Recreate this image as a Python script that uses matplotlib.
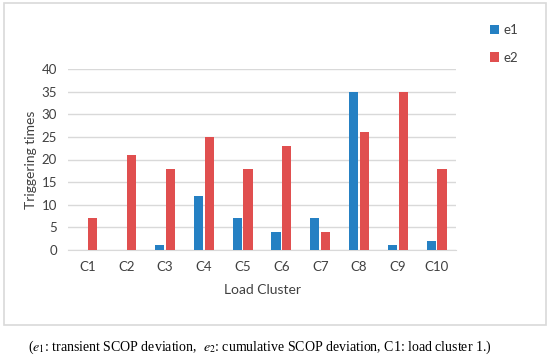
import matplotlib.pyplot as plt
import numpy as np
from matplotlib.patches import Rectangle

clusters = ['C1', 'C2', 'C3', 'C4', 'C5', 'C6', 'C7', 'C8', 'C9', 'C10']
e1 = [0, 0, 1, 12, 7, 4, 7, 35, 1, 2]
e2 = [7, 21, 18, 25, 18, 23, 4, 26, 35, 18]

plt.rcParams['font.family'] = ['Lato', 'DejaVu Sans']
plt.rcParams['mathtext.fontset'] = 'stix'

fig = plt.figure(figsize=(5.5, 3.6), dpi=100)
fig.patches.append(Rectangle((4 / 550, 1 - 325 / 360), 542 / 550, 322 / 360,
                             transform=fig.transFigure, fill=False,
                             edgecolor='#d9d9d9', lw=1.2))

ax = fig.add_axes([68 / 550, 1 - 250 / 360, 388 / 550, 181 / 360])
x = np.arange(len(clusters))
w = 0.24
b1 = ax.bar(x - w / 2 - 0.02, e1, w, color='#2580c3', label='e1', zorder=3)
b2 = ax.bar(x + w / 2 + 0.02, e2, w, color='#e04f4f', label='e2', zorder=3)

ax.set_xlim(-0.5, len(clusters) - 0.5)
ax.set_ylim(0, 40)
ax.set_yticks(range(0, 41, 5))
ax.set_xticks(x)
ax.set_xticklabels(clusters)
ax.yaxis.grid(True, color='#d9d9d9', lw=1, zorder=0)
for s in ['top', 'right', 'left']:
    ax.spines[s].set_visible(False)
ax.spines['bottom'].set_color('#d9d9d9')
ax.tick_params(length=0, labelsize=9.5, colors='#404040', pad=8)
ax.set_ylabel('Triggering times', fontsize=10, color='#404040', labelpad=3)
ax.set_xlabel('Load Cluster', fontsize=10, color='#404040', labelpad=8)

fig.legend(handles=[b1, b2], loc='upper left', bbox_to_anchor=(478 / 550, 1 - 12 / 360),
           frameon=False, fontsize=9.5, handlelength=0.7, handleheight=0.7,
           handletextpad=0.3, labelspacing=1.2, labelcolor='#404040')

fig.text(0.473, 1 - 347 / 360,
         r'($e_1$: transient SCOP deviation,  $e_2$: cumulative SCOP deviation, C1: load cluster 1.)',
         ha='center', va='center', fontsize=10, family=['Liberation Serif'])

fig.savefig('out.png', dpi=100)
